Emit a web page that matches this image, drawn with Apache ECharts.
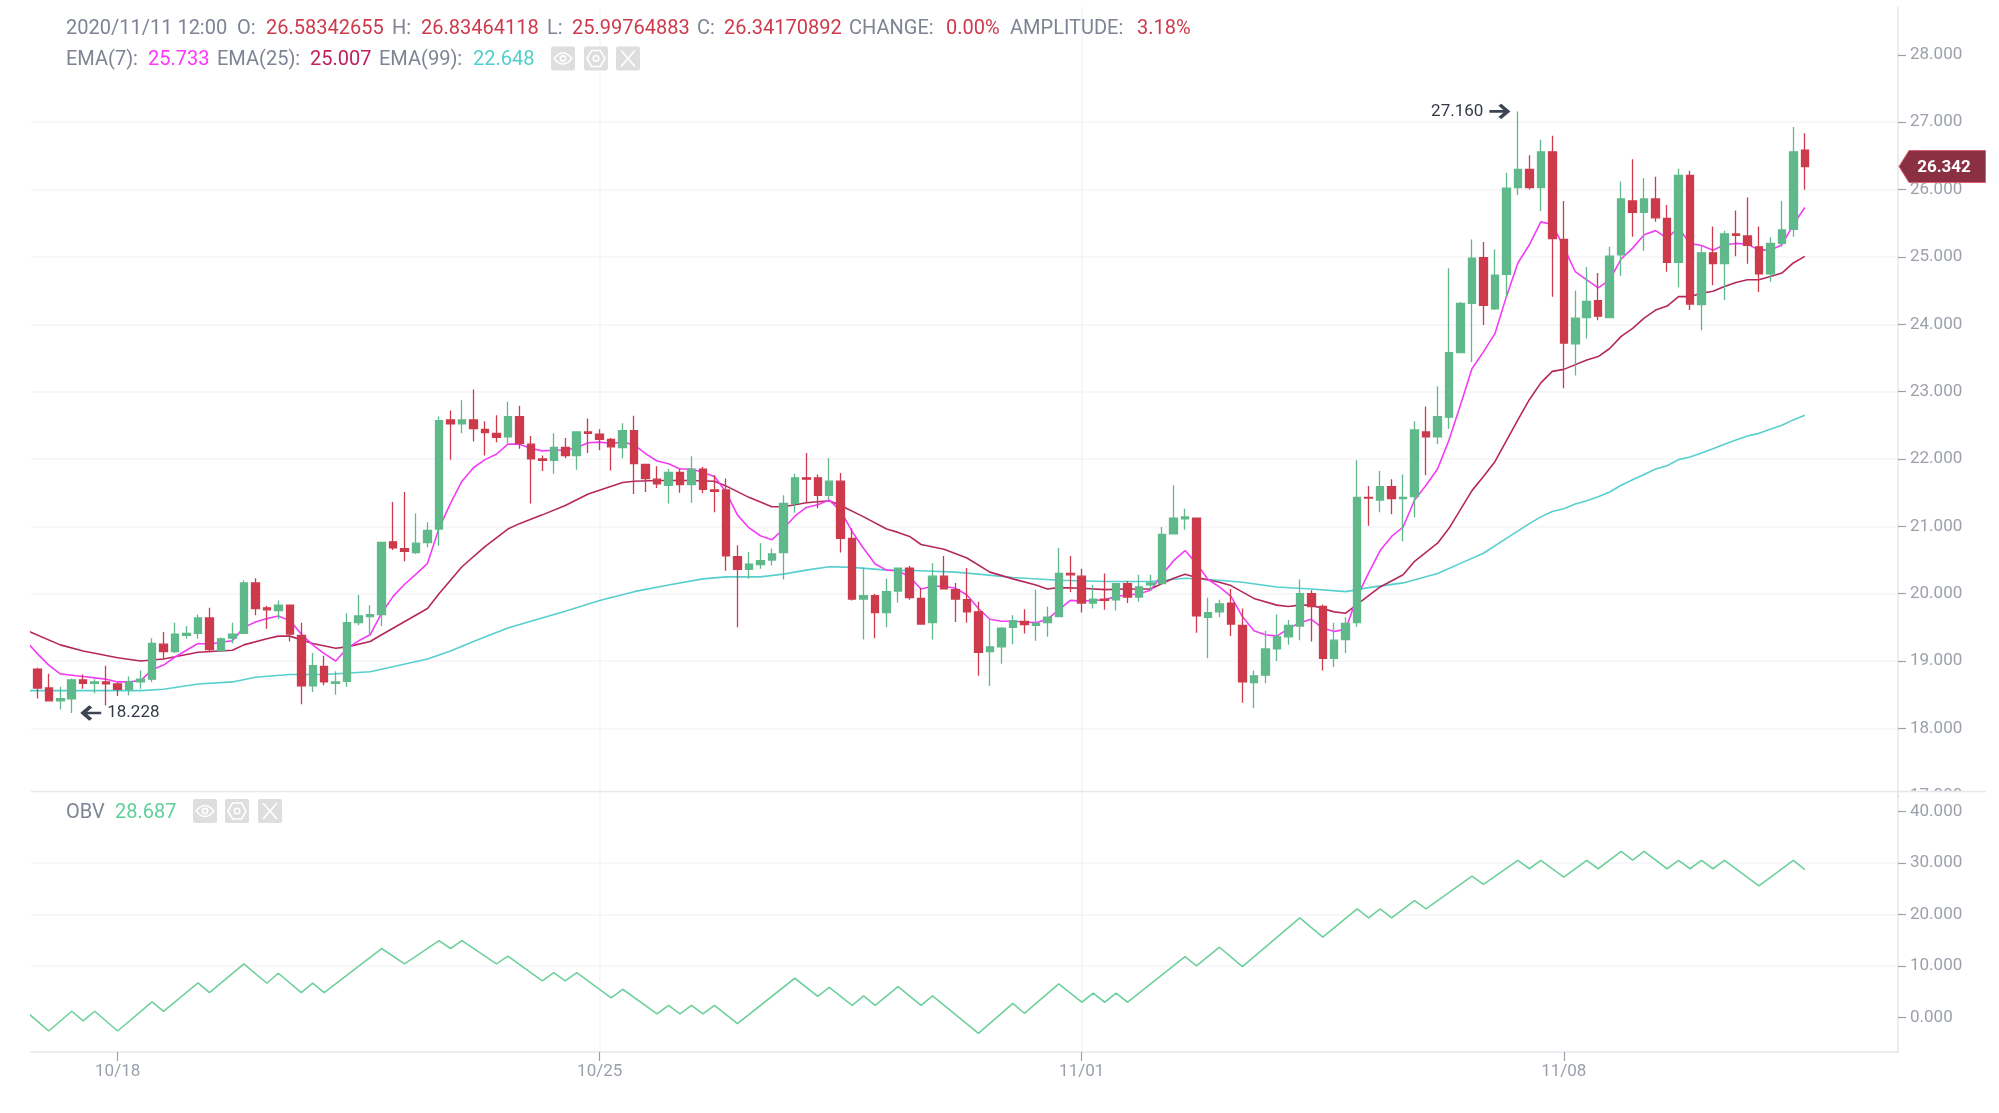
<!DOCTYPE html>
<html>
<head>
<meta charset="utf-8">
<title>Kline</title>
<script src="https://cdn.jsdelivr.net/npm/echarts@6/dist/echarts.min.js"></script>
<style>
  html, body { margin: 0; padding: 0; background: #fff; }
  #main { width: 1999px; height: 1113px; }
</style>
</head>
<body>
<div id="main"></div>
<script>
// 4h candles, index 0 = 10/16 20:00, last one = 11/11 12:00
var opens = [
  18.88,18.60,18.41,18.44,18.72,18.67,18.69,18.66,18.58,18.69,
  18.73,19.25,19.14,19.38,19.41,19.64,19.15,19.34,19.41,20.16,
  19.79,19.75,19.83,19.38,18.63,18.92,18.67,18.70,19.57,19.66,
  19.69,20.77,20.67,20.61,20.76,20.96,22.58,22.52,22.58,22.44,
  22.38,22.33,22.63,22.22,22.00,21.98,22.17,22.05,22.40,22.37,
  22.29,22.17,22.42,21.92,21.70,21.61,21.80,21.62,21.85,21.54,
  21.54,20.55,20.36,20.43,20.50,20.61,21.34,21.72,21.72,21.46,
  21.67,20.82,19.92,19.97,19.72,20.04,20.38,19.93,19.57,20.26,
  20.06,19.91,19.73,19.14,19.21,19.50,19.59,19.53,19.57,19.66,
  20.30,20.26,19.86,19.92,19.91,20.15,19.95,20.13,20.15,20.89,
  21.11,21.12,19.65,19.73,19.86,19.53,18.68,18.79,19.18,19.36,
  19.52,20.00,19.81,19.04,19.32,19.57,21.43,21.39,21.59,21.41,
  21.44,22.40,22.33,22.62,23.58,24.31,24.99,24.23,24.74,26.03,
  26.30,26.03,26.56,25.26,23.71,24.10,24.35,24.10,25.03,25.83,
  25.66,25.86,25.57,24.92,26.21,24.29,25.06,24.90,25.34,25.31,
  25.15,24.75,25.20,25.41,26.58342655
];
var closes = [
  18.60,18.41,18.44,18.72,18.67,18.69,18.66,18.58,18.69,18.73,
  19.26,19.14,19.40,19.41,19.64,19.17,19.33,19.40,20.16,19.78,
  19.76,19.83,19.40,18.63,18.93,18.69,18.69,19.57,19.67,19.69,
  20.76,20.68,20.63,20.75,20.94,22.57,22.52,22.58,22.45,22.39,
  22.32,22.63,22.23,22.00,21.98,22.17,22.05,22.40,22.38,22.29,
  22.18,22.42,21.93,21.71,21.63,21.80,21.62,21.85,21.55,21.52,
  20.56,20.36,20.44,20.49,20.59,21.34,21.72,21.70,21.46,21.67,
  20.82,19.92,19.97,19.72,20.03,20.38,19.94,19.55,20.26,20.07,
  19.92,19.73,19.13,19.21,19.49,19.60,19.54,19.56,19.65,20.30,
  20.28,19.86,19.92,19.90,20.15,19.95,20.10,20.16,20.88,21.12,
  21.14,19.67,19.72,19.85,19.55,18.69,18.78,19.18,19.36,19.53,
  20.00,19.81,19.04,19.31,19.56,21.43,21.42,21.59,21.41,21.43,
  22.43,22.33,22.63,23.58,24.31,24.98,24.28,24.73,26.02,26.30,
  26.03,26.56,25.27,23.72,24.09,24.34,24.12,25.01,25.86,25.66,
  25.86,25.58,24.92,26.21,24.30,25.06,24.90,25.34,25.32,25.17,
  24.75,25.20,25.40,26.56,26.34170892
];
var lows = [
  18.445,18.41,18.28,18.228,18.59,18.52,18.34,18.48,18.49,18.59,
  18.69,19.03,19.12,19.33,19.33,19.13,19.14,19.26,19.40,19.68,
  19.48,19.62,19.29,18.36,18.54,18.64,18.50,18.62,19.53,19.38,
  19.52,20.65,20.48,20.59,20.69,20.71,21.99,22.38,22.26,22.05,
  22.25,22.23,22.15,21.34,21.82,21.78,22.01,21.84,22.09,22.13,
  21.83,22.01,21.48,21.51,21.57,21.34,21.50,21.35,21.49,21.21,
  20.34,19.50,20.22,20.37,20.42,20.21,21.20,21.35,21.27,21.40,
  20.61,19.90,19.32,19.34,19.50,19.87,19.91,19.55,19.32,20.07,
  19.58,19.57,18.78,18.63,18.96,19.25,19.41,19.30,19.36,19.66,
  20.02,19.72,19.78,19.76,19.75,19.86,19.88,20.05,20.15,20.88,
  20.95,19.42,19.04,19.65,19.37,18.38,18.30,18.67,19.00,19.24,
  19.31,19.29,18.86,18.91,19.12,19.51,21.01,21.21,21.18,20.78,
  21.13,21.76,22.22,22.45,23.58,23.44,23.99,24.21,24.41,25.92,
  26.00,25.68,24.41,23.05,23.24,23.79,24.06,24.10,24.72,25.30,
  25.09,25.52,24.78,24.55,24.21,23.91,24.58,24.36,25.01,24.90,
  24.48,24.63,25.15,25.30,25.99764883
];
var highs = [
  18.90,18.81,18.62,18.74,18.80,18.73,18.93,18.68,18.77,18.86,
  19.34,19.43,19.57,19.52,19.69,19.79,19.35,19.57,20.20,20.23,
  19.82,19.90,19.83,19.57,19.12,19.08,18.85,19.71,19.98,19.83,
  20.76,21.36,21.51,21.19,21.06,22.63,22.72,22.87,23.03,22.56,
  22.65,22.85,22.79,22.34,22.05,22.38,22.31,22.40,22.60,22.44,
  22.31,22.53,22.64,21.92,21.89,21.85,21.85,22.04,21.88,21.76,
  21.71,20.72,20.62,20.75,20.67,21.46,21.78,22.09,21.77,22.01,
  21.79,20.97,20.39,20.00,20.22,20.38,20.41,20.08,20.45,20.56,
  20.16,20.38,19.88,19.62,19.50,19.68,19.77,20.06,19.81,20.68,
  20.56,20.37,20.13,20.30,20.15,20.19,20.28,20.28,20.99,21.61,
  21.26,21.12,19.94,19.91,20.07,19.78,18.86,19.45,19.69,19.61,
  20.21,20.05,19.84,19.57,19.65,21.98,21.60,21.82,21.70,21.77,
  22.56,22.78,23.08,24.83,24.33,25.26,25.22,25.11,26.25,27.16,
  26.51,26.74,26.80,25.83,24.50,24.85,24.76,25.15,26.12,26.45,
  26.17,26.19,25.77,26.31,26.28,25.16,25.45,25.39,25.69,25.88,
  25.45,25.29,25.83,26.93,26.83464118
];
// ema7 has one extra value in front, for the candle before the left edge
var ema7Values = [
  19.30,
  19.11,18.94,18.81,18.79,18.77,18.75,18.73,18.69,18.69,18.71,
  18.87,18.94,19.06,19.16,19.26,19.25,19.28,19.30,19.50,19.58,
  19.63,19.67,19.60,19.40,19.24,19.11,19.00,19.19,19.30,19.39,
  19.71,19.96,20.14,20.29,20.45,20.97,21.34,21.67,21.87,21.99,
  22.07,22.22,22.22,22.16,22.12,22.13,22.13,22.17,22.24,22.25,
  22.23,22.25,22.21,22.08,21.97,21.93,21.85,21.85,21.80,21.74,
  21.51,21.17,20.98,20.86,20.80,20.96,21.15,21.28,21.32,21.39,
  21.23,20.92,20.67,20.44,20.35,20.34,20.25,20.07,20.11,20.11,
  20.08,19.98,19.78,19.62,19.59,19.59,19.58,19.57,19.62,19.76,
  19.90,19.89,19.90,19.91,19.96,19.98,20.00,20.05,20.28,20.49,
  20.64,20.45,20.21,20.10,19.96,19.66,19.45,19.39,19.37,19.48,
  19.57,19.62,19.49,19.44,19.47,19.96,20.31,20.64,20.85,20.99,
  21.39,21.61,21.85,22.28,22.80,23.34,23.59,23.86,24.41,24.91,
  25.18,25.52,25.48,25.15,24.78,24.66,24.54,24.66,24.97,25.13,
  25.33,25.39,25.28,25.43,25.20,25.17,25.10,25.18,25.20,25.19,
  25.10,25.10,25.18,25.48,25.733
];
// [candle index, value] read where the line bends
var ema25Points = [
  [-1,19.46],[2,19.24],[4,19.15],[7,19.05],[9,19.00],[11,19.03],[14,19.13],[17,19.16],[18,19.24],[20,19.33],
  [21,19.37],[22,19.37],[24,19.26],[26,19.19],[27,19.21],[29,19.29],[30,19.39],[34,19.78],[35,20.00],[37,20.40],
  [39,20.70],[41,20.96],[42,21.04],[44,21.17],[46,21.31],[48,21.48],[51,21.65],[52,21.67],[54,21.68],[57,21.68],
  [59,21.67],[60,21.60],[62,21.43],[64,21.29],[65,21.29],[66,21.32],[67,21.35],[69,21.38],[70,21.31],[72,21.14],
  [74,20.96],[75,20.91],[76,20.85],[77,20.73],[79,20.66],[81,20.53],[83,20.32],[85,20.22],[87,20.13],[88,20.07],
  [89,20.09],[91,20.08],[93,20.06],[95,20.07],[97,20.07],[98,20.15],[99,20.23],[100,20.29],[101,20.24],[103,20.17],
  [104,20.12],[106,19.93],[108,19.83],[109,19.81],[110,19.83],[111,19.83],[112,19.78],[113,19.73],[114,19.71],[115,19.84],
  [117,20.10],[119,20.28],[120,20.48],[122,20.75],[123,20.97],[125,21.53],[126,21.74],[127,21.96],[129,22.58],[130,22.88],
  [131,23.13],[132,23.30],[133,23.33],[135,23.47],[136,23.52],[137,23.64],[138,23.82],[139,23.94],[140,24.09],[141,24.21],
  [142,24.27],[143,24.41],[144,24.41],[145,24.46],[146,24.49],[147,24.56],[148,24.62],[149,24.66],[150,24.66],[151,24.71],
  [152,24.76],[153,24.91],[154,25.007]
];
var ema99Points = [
  [-1,18.56],[9,18.56],[11,18.58],[14,18.66],[17,18.69],[19,18.76],[22,18.80],[25,18.80],[29,18.84],[34,19.03],
  [36,19.15],[38,19.29],[41,19.49],[43,19.59],[46,19.74],[49,19.90],[52,20.03],[55,20.13],[58,20.22],[60,20.25],
  [63,20.25],[65,20.29],[67,20.35],[69,20.40],[71,20.39],[74,20.35],[77,20.34],[80,20.32],[82,20.29],[85,20.24],
  [89,20.20],[93,20.18],[97,20.18],[100,20.23],[103,20.20],[105,20.17],[108,20.10],[111,20.07],[114,20.03],[116,20.09],
  [119,20.16],[122,20.30],[124,20.45],[126,20.60],[128,20.82],[130,21.04],[131,21.14],[132,21.22],[133,21.26],[134,21.33],
  [135,21.38],[136,21.44],[137,21.51],[138,21.61],[139,21.69],[140,21.77],[141,21.85],[142,21.90],[143,21.99],[144,22.03],
  [145,22.09],[146,22.15],[147,22.22],[148,22.28],[149,22.34],[150,22.38],[151,22.44],[152,22.50],[153,22.58],[154,22.648]
];
var obvPoints = [
  [-1,1.17],[1,-2.66],[3,1.17],[4,-0.71],[5,1.17],[7,-2.66],[10,2.98],[11,1.17],[14,6.68],[15,4.80],
  [18,10.37],[20,6.61],[21,8.55],[23,4.80],[24,6.61],[25,4.80],[30,13.35],[32,10.37],[35,14.90],[36,13.35],
  [37,14.90],[40,10.37],[41,11.86],[44,7.06],[45,8.68],[46,7.06],[47,8.68],[50,3.76],[51,5.44],[54,0.65],
  [55,2.33],[56,0.65],[57,2.33],[58,0.65],[59,2.33],[61,-1.23],[66,7.58],[68,4.08],[69,5.83],[71,2.33],
  [72,4.15],[73,2.33],[75,5.96],[77,2.33],[78,4.15],[82,-3.11],[85,2.72],[86,0.78],[89,6.48],[91,2.92],
  [92,4.67],[93,2.92],[94,4.67],[95,2.92],[100,11.80],[101,9.98],[103,13.60],[105,9.85],[110,19.30],[112,15.55],
  [115,21.06],[116,19.30],[117,21.06],[118,19.30],[120,22.65],[121,21.06],[125,27.41],[126,25.79],[129,30.46],[130,28.84],
  [131,30.46],[133,27.22],[135,30.46],[136,28.84],[138,32.21],[139,30.52],[140,32.21],[142,28.84],[143,30.46],[144,28.84],
  [145,30.46],[146,28.84],[147,30.46],[150,25.53],[153,30.46],[154,28.687]
];
var dateTicks = [7, 49, 91, 133];
var dateLabels = ['10/18', '10/25', '11/01', '11/08'];
var priceTicks = [17, 18, 19, 20, 21, 22, 23, 24, 25, 26, 27, 28];
var obvTicks = [0, 10, 20, 30, 40];
var lastClose = 26.342;

var GREEN = '#5fb98a', RED = '#cd3a4c';
var FONT = 'Roboto';
var gridColor = '#f5f5f7', axisColor = '#e6e7eb', tickColor = '#9ba0ab';

// header rows: [text, left, color]
var headerRow1 = [
  ['2020/11/11 12:00', 66, '#7e8494'], ['O:', 237, '#7e8494'], ['26.58342655', 266, RED],
  ['H:', 392, '#7e8494'], ['26.83464118', 421, RED], ['L:', 547, '#7e8494'], ['25.99764883', 572, RED],
  ['C:', 697, '#7e8494'], ['26.34170892', 724, RED], ['CHANGE:', 849, '#7e8494'], ['0.00%', 946, RED],
  ['AMPLITUDE:', 1010, '#7e8494'], ['3.18%', 1137, RED]
];
var headerRow2 = [
  ['EMA(7):', 66, '#7e8494'], ['25.733', 148, '#fb37fb'], ['EMA(25):', 217, '#7e8494'], ['25.007', 310, '#c11f5c'],
  ['EMA(99):', 379, '#7e8494'], ['22.648', 473, '#4fd0cb']
];
var headerObv = [['OBV', 66, '#7e8494'], ['28.687', 115, '#5fd09a']];

function textRow(row, y) {
  return row.map(function (t) {
    return {
      type: 'text', x: t[1], y: y, z: 20,
      style: { text: t[0], fill: t[2], font: '20px ' + FONT, textVerticalAlign: 'middle' }
    };
  });
}

// the eye / settings / close buttons next to the legends
function iconButtons(xs, y) {
  var list = [];
  xs.forEach(function (x, n) {
    var cx = x + 12, cy = y + 12, kids = [];
    var glyph = { stroke: '#fff', lineWidth: 1.6, fill: null };
    if (n === 0) {
      kids.push({ type: 'bezierCurve', shape: { x1: cx - 9, y1: cy, x2: cx + 9, y2: cy, cpx1: cx, cpy1: cy - 11 }, style: glyph });
      kids.push({ type: 'bezierCurve', shape: { x1: cx - 9, y1: cy, x2: cx + 9, y2: cy, cpx1: cx, cpy1: cy + 11 }, style: glyph });
      kids.push({ type: 'circle', shape: { cx: cx, cy: cy, r: 2.6 }, style: glyph });
    } else if (n === 1) {
      kids.push({ type: 'polygon', shape: { points: [[cx - 9, cy], [cx - 4.5, cy - 8], [cx + 4.5, cy - 8], [cx + 9, cy], [cx + 4.5, cy + 8], [cx - 4.5, cy + 8]] }, style: glyph });
      kids.push({ type: 'circle', shape: { cx: cx, cy: cy, r: 2.8 }, style: glyph });
    } else {
      kids.push({ type: 'line', shape: { x1: cx - 7, y1: cy - 8, x2: cx + 7, y2: cy + 8 }, style: glyph });
      kids.push({ type: 'line', shape: { x1: cx + 7, y1: cy - 8, x2: cx - 7, y2: cy + 8 }, style: glyph });
    }
    list.push({ type: 'rect', z: 20, shape: { x: x, y: y, width: 24, height: 24, r: 2 }, style: { fill: '#dedede' } });
    kids.forEach(function (k) { k.z = 21; list.push(k); });
  });
  return list;
}

var candleData = opens.map(function (o, i) {
  return [i, o, closes[i], lows[i], highs[i]];
});

var chart = echarts.init(document.getElementById('main'));
var axisText = { color: tickColor, fontFamily: FONT, fontSize: 17 };

chart.setOption({
  animation: false,
  backgroundColor: '#fff',
  grid: [
    { left: 31, right: 101, top: 7, height: 788.75 },
    { left: 31, right: 101, top: 791.5, height: 260.5 }
  ],
  xAxis: [
    {
      type: 'value', gridIndex: 0, min: -0.549, max: 162.12,
      axisLine: { show: false, onZero: false }, axisLabel: { show: false },
      axisTick: { show: false, customValues: dateTicks },
      splitLine: { show: true, showMinLine: false, showMaxLine: false, lineStyle: { color: gridColor, width: 1.5 } }
    },
    {
      type: 'value', gridIndex: 1, min: -0.549, max: 162.12,
      axisLine: { onZero: false, lineStyle: { color: axisColor, width: 1.5 } },
      axisTick: { length: 9, lineStyle: { color: tickColor, width: 1.2 }, customValues: dateTicks },
      axisLabel: Object.assign({}, axisText, {
        margin: 6,
        padding: [5, 0, 0, 0],
        customValues: dateTicks,
        formatter: function (v) { return dateLabels[dateTicks.indexOf(v)] || ''; }
      }),
      splitLine: { show: true, showMinLine: false, showMaxLine: false, lineStyle: { color: gridColor, width: 1.5 } }
    }
  ],
  yAxis: [
    {
      type: 'value', gridIndex: 0, position: 'right', min: 17, max: 28.71, scale: true,
      axisLine: { show: true, onZero: false, lineStyle: { color: axisColor, width: 1.5 } },
      axisTick: { show: true, length: 8, lineStyle: { color: tickColor, width: 1.2 }, customValues: priceTicks },
      axisLabel: Object.assign({}, axisText, {
        margin: 12,
        padding: [9, 0, 0, 0],
        customValues: priceTicks,
        formatter: function (v) { return v.toFixed(3); }
      }),
      splitLine: { show: true, showMinLine: false, showMaxLine: false, lineStyle: { color: gridColor, width: 1.5 } }
    },
    {
      type: 'value', gridIndex: 1, position: 'right', min: -6.74, max: 43.84, scale: true,
      axisLine: { show: true, onZero: false, lineStyle: { color: axisColor, width: 1.5 } },
      axisTick: { show: true, length: 8, lineStyle: { color: tickColor, width: 1.2 }, customValues: obvTicks },
      axisLabel: Object.assign({}, axisText, {
        margin: 12,
        padding: [9, 0, 0, 0],
        customValues: obvTicks,
        formatter: function (v) { return v.toFixed(3); }
      }),
      splitLine: { show: true, showMinLine: false, showMaxLine: false, lineStyle: { color: gridColor, width: 1.5 } }
    }
  ],
  series: [
    {
      name: 'EMA(99)', type: 'line', xAxisIndex: 0, yAxisIndex: 0, z: 2, showSymbol: false, symbol: 'none',
      data: ema99Points, lineStyle: { color: '#57cfce', width: 1.6 }
    },
    {
      name: 'EMA(25)', type: 'line', xAxisIndex: 0, yAxisIndex: 0, z: 2, showSymbol: false, symbol: 'none',
      data: ema25Points, lineStyle: { color: '#b5285c', width: 1.6 }
    },
    {
      name: 'EMA(7)', type: 'line', xAxisIndex: 0, yAxisIndex: 0, z: 2, showSymbol: false, symbol: 'none',
      data: ema7Values.map(function (v, i) { return [i - 1, v]; }), lineStyle: { color: '#f23df5', width: 1.6 }
    },
    {
      name: 'K', type: 'candlestick', xAxisIndex: 0, yAxisIndex: 0, z: 3, barWidth: 8,
      data: candleData,
      itemStyle: { color: GREEN, color0: RED, borderColor: GREEN, borderColor0: RED, borderWidth: 1.3 },
      markPoint: {
        animation: false,
        silent: true,
        symbolKeepAspect: true,
        itemStyle: { color: '#3e4552' },
        label: { show: true, color: '#333a45', fontFamily: FONT, fontSize: 17 },
        data: [
          {
            coord: [3, lows[3]], value: lows[3],
            symbol: 'path://M0,9 L9,0 L12,2.5 L7,7.5 L21,7.5 L21,10.5 L7,10.5 L12,15.5 L9,18 Z',
            symbolSize: [21, 18], symbolOffset: [19, 0],
            label: { position: 'right', distance: 6, padding: [4, 0, 0, 0], formatter: lows[3].toFixed(3) }
          },
          {
            coord: [129, highs[129]], value: highs[129],
            symbol: 'path://M21,9 L12,0 L9,2.5 L14,7.5 L0,7.5 L0,10.5 L14,10.5 L9,15.5 L12,18 Z',
            symbolSize: [21, 18], symbolOffset: [-18, 0],
            label: { position: 'left', distance: 6, padding: [4, 0, 0, 0], formatter: highs[129].toFixed(3) }
          }
        ]
      }
    },
    {
      name: 'OBV', type: 'line', xAxisIndex: 1, yAxisIndex: 1, z: 2, showSymbol: false, symbol: 'none',
      data: obvPoints, lineStyle: { color: '#6fd09c', width: 1.6 }
    }
  ]
});

// last price tag sits on the axis, at the pixel of the close
var tagY = chart.convertToPixel({ yAxisIndex: 0 }, lastClose);

chart.setOption({
  graphic: [].concat(
    // cut the 17.000 label at the panel border, then the border itself
    [
      { type: 'rect', z: 10, shape: { x: 1898.8, y: 792, width: 100, height: 12 }, style: { fill: '#fff' } },
      { type: 'line', z: 11, shape: { x1: 31, y1: 791.5, x2: 1986, y2: 791.5 }, style: { stroke: axisColor, lineWidth: 1.5 } },
      {
        type: 'polygon', z: 15,
        shape: { points: [[1899, tagY], [1909, tagY - 16], [1985.5, tagY - 16], [1985.5, tagY + 16], [1909, tagY + 16]] },
        style: { fill: '#8a3042', stroke: '#d9606f', lineWidth: 1 }
      },
      {
        type: 'text', z: 16, x: 1944, y: tagY + 1.5,
        style: { text: lastClose.toFixed(3), fill: '#fff', font: 'bold 17px ' + FONT, textAlign: 'center', textVerticalAlign: 'middle' }
      }
    ],
    textRow(headerRow1, 28.5),
    textRow(headerRow2, 60),
    textRow(headerObv, 813),
    iconButtons([551, 584, 616], 46.5),
    iconButtons([193, 225, 258], 799)
  )
});
</script>
</body>
</html>
